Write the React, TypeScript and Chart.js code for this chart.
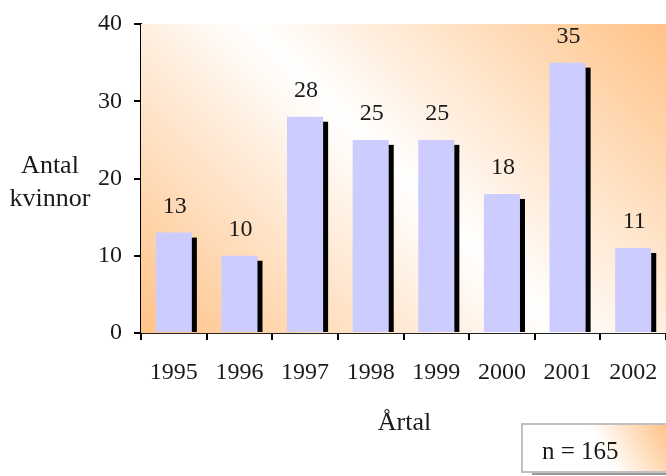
import React, { useEffect, useRef } from "react";
import { Chart, registerables } from "chart.js";

Chart.register(...registerables);

const years = ["1995", "1996", "1997", "1998", "1999", "2000", "2001", "2002"];
const counts = [13, 10, 28, 25, 25, 18, 35, 11];
const yMin = 0;
const yMax = 40;
const yStep = 10;
const yTitleLines = ["Antal", "kvinnor"];
const xTitle = "Årtal";
const totalLabel = "n = 165";

const FONT = "'Liberation Serif', 'Times New Roman', serif";

export default function App() {
  const ref = useRef<HTMLCanvasElement | null>(null);

  useEffect(() => {
    const canvas = ref.current;
    if (!canvas) return;

    const bgPlugin = {
      id: "bgPlugin",
      beforeDatasetsDraw(chart: any) {
        const { ctx, chartArea } = chart;
        const { left, right, top, bottom } = chartArea;
        const cx = (left + right) / 2;
        const cy = (top + bottom) / 2;
        const k = 209;
        const g = ctx.createLinearGradient(cx - k, cy + k, cx + k, cy - k);
        g.addColorStop(0, "#FFC286");
        g.addColorStop(0.5, "#FFFFFF");
        g.addColorStop(1, "#FFC286");
        ctx.save();
        ctx.fillStyle = g;
        ctx.fillRect(left, top, right - left, bottom - top);
        // shadows
        const meta = chart.getDatasetMeta(0);
        ctx.fillStyle = "#000000";
        meta.data.forEach((bar: any) => {
          const w = bar.width;
          const h = bar.base - bar.y - 5;
          if (h > 0) ctx.fillRect(bar.x - w / 2 + 5, bar.y + 5, w, h);
        });
        ctx.restore();
      },
    };

    const textPlugin = {
      id: "textPlugin",
      afterDraw(chart: any) {
        const { ctx, chartArea } = chart;
        const yScale = chart.scales.y;
        ctx.save();
        ctx.fillStyle = "#1a1a1a";
        ctx.font = `24px ${FONT}`;
        ctx.textAlign = "center";
        ctx.textBaseline = "alphabetic";
        // value labels
        const meta = chart.getDatasetMeta(0);
        meta.data.forEach((bar: any, i: number) => {
          ctx.fillText(String(counts[i]), bar.x + 1, bar.y - 20);
        });
        // y title
        ctx.font = `26px ${FONT}`;
        const y20 = yScale.getPixelForValue(20);
        ctx.fillText(yTitleLines[0], 50, y20 - 6);
        ctx.fillText(yTitleLines[1], 50, y20 + 27);
        // x title
        ctx.fillText(xTitle, (chartArea.left + chartArea.right) / 2 + 1, chartArea.bottom + 97);
        // n box
        const bx = 522, by = 424, bw = 150, bh = 48;
        ctx.fillStyle = "#9a9a9a";
        ctx.fillRect(bx + 10, by + 3, bw, bh);
        const g = ctx.createLinearGradient(bx + 40, by + bh, bx + bw - 10, by - 10);
        g.addColorStop(0, "#FFFFFF");
        g.addColorStop(0.4, "#FFFFFF");
        g.addColorStop(1, "#FFC184");
        ctx.fillStyle = g;
        ctx.fillRect(bx, by, bw, bh);
        ctx.strokeStyle = "#C0C0C0";
        ctx.lineWidth = 2;
        ctx.strokeRect(bx, by, bw, bh);
        ctx.fillStyle = "#1a1a1a";
        ctx.textAlign = "left";
        ctx.font = `25px ${FONT}`;
        ctx.fillText(totalLabel, 542, 459);
        ctx.restore();
      },
    };

    const chart = new Chart(canvas, {
      type: "bar",
      data: {
        labels: years,
        datasets: [
          {
            data: counts,
            backgroundColor: "#CCCCFF",
            borderWidth: 0,
            barPercentage: 0.55,
            categoryPercentage: 1,
          },
        ],
      },
      options: {
        responsive: false,
        animation: false,
        layout: { padding: { top: 24, right: 0, left: 0, bottom: 0 } },
        plugins: {
          legend: { display: false },
          tooltip: { enabled: false },
          title: { display: false },
        },
        scales: {
          x: {
            offset: true,
            grid: {
              offset: true,
              drawOnChartArea: false,
              drawTicks: true,
              tickLength: 7,
              color: "#000000",
              lineWidth: 2,
            },
            border: { display: true, color: "#222222", width: 2 },
            ticks: {
              color: "#1a1a1a",
              font: { family: FONT, size: 24 },
              padding: 18,
              maxRotation: 0,
              autoSkip: false,
            },
            afterFit(scale: any) {
              scale.height = 143;
              scale.paddingLeft = 0;
              scale.paddingRight = 0;
            },
          },
          y: {
            min: yMin,
            max: yMax,
            grid: {
              drawOnChartArea: false,
              drawTicks: true,
              tickLength: 7,
              color: "#000000",
              lineWidth: 2,
            },
            border: { display: true, color: "#000000", width: 2 },
            ticks: {
              stepSize: yStep,
              color: "#1a1a1a",
              font: { family: FONT, size: 24 },
              padding: 12,
            },
            afterFit(scale: any) {
              scale.width = 141;
              scale.paddingTop = 0;
              scale.paddingBottom = 0;
            },
          },
        },
      },
      plugins: [bgPlugin, textPlugin],
    });

    return () => chart.destroy();
  }, []);

  return (
    <div style={{ position: "fixed", left: 0, top: 0, width: 666, height: 476, background: "#fff" }}>
      <canvas ref={ref} width={666} height={476} style={{ display: "block" }} />
    </div>
  );
}
